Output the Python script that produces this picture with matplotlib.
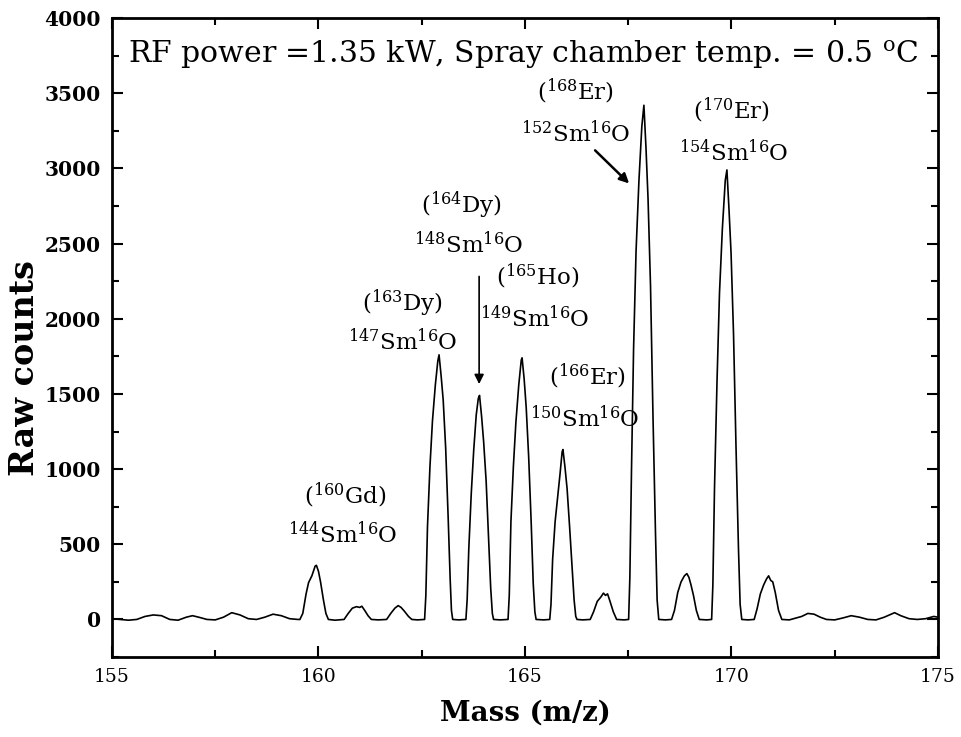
import numpy as np
import matplotlib
matplotlib.use("Agg")
import matplotlib.pyplot as plt
from matplotlib.ticker import MultipleLocator

plt.rcParams['font.family'] = ['DejaVu Serif']
plt.rcParams['mathtext.fontset'] = 'dejavuserif'

# trace (mass, raw counts)
mass = [155.0, 155.2, 155.4, 155.6, 155.8, 156.0, 156.2, 156.4, 156.6, 156.8, 156.95, 157.1, 157.3, 157.5, 157.7, 157.9, 158.1, 158.3, 158.5, 158.7, 158.9, 159.1, 159.3, 159.5,
        159.55, 159.62, 159.70, 159.76, 159.84, 159.92, 159.95, 160.0, 160.05, 160.12, 160.18, 160.24, 160.4,
        160.62, 160.72, 160.82, 160.92, 161.0, 161.05, 161.12, 161.2, 161.28, 161.45,
        161.65, 161.75, 161.85, 161.93, 162.0, 162.08, 162.18, 162.26, 162.4,
        162.57, 162.60, 162.64, 162.70, 162.76, 162.83, 162.89, 162.92, 162.97, 163.02, 163.08, 163.14, 163.19, 163.22, 163.25, 163.4,
        163.57, 163.60, 163.64, 163.70, 163.76, 163.82, 163.87, 163.90, 163.95, 164.0, 164.06, 164.12, 164.17, 164.21, 164.24, 164.4,
        164.59, 164.62, 164.66, 164.72, 164.78, 164.85, 164.91, 164.93, 164.98, 165.03, 165.09, 165.15, 165.20, 165.24, 165.27, 165.45,
        165.60, 165.63, 165.67, 165.73, 165.79, 165.85, 165.90, 165.92, 165.97, 166.02, 166.08, 166.14, 166.19, 166.23, 166.26, 166.4,
        166.58, 166.66, 166.75, 166.84, 166.90, 166.95, 167.0, 167.06, 167.14, 167.22, 167.4,
        167.51, 167.54, 167.58, 167.63, 167.69, 167.76, 167.83, 167.88, 167.93, 167.98, 168.04, 168.10, 168.16, 168.20, 168.24, 168.4,
        168.55, 168.62, 168.70, 168.78, 168.86, 168.92, 168.97, 169.02, 169.08, 169.15, 169.22, 169.4,
        169.52, 169.55, 169.59, 169.65, 169.71, 169.78, 169.85, 169.89, 169.94, 169.99, 170.05, 170.11, 170.17, 170.21, 170.25, 170.4,
        170.55, 170.62, 170.70, 170.78, 170.85, 170.90, 170.95, 171.0, 171.06, 171.14, 171.22, 171.4,
        171.7, 171.85, 172.0, 172.15, 172.3, 172.5, 172.7, 172.9, 173.1, 173.3, 173.5, 173.7, 173.95, 174.1, 174.3, 174.5, 174.7, 174.9, 175.0]
counts = [5, 0, -5, 0, 20, 30, 25, 0, -5, 15, 25, 15, 0, -3, 15, 45, 30, 5, 0, 15, 35, 25, 5, 0,
          0, 40, 170, 245, 290, 355, 360, 320, 250, 130, 40, 0, -5,
          0, 40, 75, 85, 80, 88, 60, 25, 0, -3,
          0, 40, 75, 92, 80, 55, 20, 0, -3,
          0, 160, 620, 1020, 1320, 1560, 1720, 1760, 1620, 1460, 1140, 680, 260, 60, 0, -3,
          0, 130, 470, 840, 1130, 1360, 1470, 1490, 1350, 1180, 920, 540, 210, 40, 0, -3,
          0, 160, 650, 1020, 1310, 1560, 1725, 1740, 1600, 1410, 1080, 650, 240, 50, 0, -3,
          0, 100, 400, 650, 810, 970, 1115, 1130, 1010, 870, 620, 350, 130, 20, 0, -3,
          0, 50, 120, 150, 175, 160, 170, 120, 50, 0, -3,
          0, 280, 1000, 1800, 2450, 2920, 3280, 3420, 3140, 2800, 2220, 1350, 580, 130, 0, -3,
          0, 60, 180, 250, 290, 305, 280, 230, 160, 60, 0, -3,
          0, 230, 880, 1580, 2170, 2600, 2920, 2990, 2730, 2440, 1900, 1150, 470, 100, 0, -3,
          0, 70, 170, 230, 270, 290, 260, 250, 180, 60, 0, -3,
          20, 40, 35, 15, 0, -3, 10, 25, 15, 0, -3, 15, 45, 25, 5, 0, 5, 20, 15]

# peak labels: (interference), oxide, x, y of each line
interf = [r'($^{160}$Gd)', r'($^{163}$Dy)', r'($^{164}$Dy)', r'($^{165}$Ho)', r'($^{166}$Er)', r'($^{168}$Er)', r'($^{170}$Er)']
oxide = [r'$^{144}$Sm$^{16}$O', r'$^{147}$Sm$^{16}$O', r'$^{148}$Sm$^{16}$O', r'$^{149}$Sm$^{16}$O',
         r'$^{150}$Sm$^{16}$O', r'$^{152}$Sm$^{16}$O', r'$^{154}$Sm$^{16}$O']
interf_xy = [(160.64, 827), (162.02, 2100), (163.47, 2753), (165.31, 2280), (166.50, 1620), (166.23, 3513), (169.99, 3387)]
oxide_xy = [(160.59, 567), (162.04, 1847), (163.64, 2493), (165.24, 2000), (166.45, 1333), (166.23, 3233), (170.06, 3107)]

fig = plt.figure(figsize=(9.62, 7.37), dpi=100)
ax = fig.add_axes([0.1164, 0.1085, 0.8586, 0.867])

ax.plot(mass, counts, color='black', lw=1.2)

ax.set_xlim(155, 175)
ax.set_ylim(-250, 4000)
ax.xaxis.set_major_locator(MultipleLocator(5))
ax.xaxis.set_minor_locator(MultipleLocator(2.5))
ax.yaxis.set_major_locator(MultipleLocator(500))
ax.yaxis.set_minor_locator(MultipleLocator(250))
ax.tick_params(which='both', direction='in', top=True, right=True, width=1.5)
ax.tick_params(which='major', length=8, pad=8)
ax.tick_params(which='minor', length=5)
ax.tick_params(axis='x', labelsize=13.5)
ax.tick_params(axis='y', labelsize=14.5)
for lab in ax.get_yticklabels():
    lab.set_fontweight('bold')
for s in ax.spines.values():
    s.set_linewidth(2)

ax.set_xlabel('Mass (m/z)', fontsize=20, fontweight='bold', labelpad=10)
ax.set_ylabel('Raw counts', fontsize=24, fontweight='bold', va='center')
ax.yaxis.set_label_coords(-0.106, 0.452)

ax.text(155.39, 3753, r'RF power =1.35 kW, Spray chamber temp. = 0.5 $^{\rm o}$C',
        fontsize=21.5, ha='left', va='center')

for t, (x, y) in zip(interf, interf_xy):
    ax.text(x, y, t, fontsize=16.5, ha='center', va='center')
for t, (x, y) in zip(oxide, oxide_xy):
    ax.text(x, y, t, fontsize=16.5, ha='center', va='center')

ax.annotate('', xy=(163.89, 1547), xytext=(163.89, 2300),
            arrowprops=dict(arrowstyle='-|>', color='black', lw=1.2, mutation_scale=14))
ax.annotate('', xy=(167.57, 2887), xytext=(166.65, 3133),
            arrowprops=dict(arrowstyle='-|>', color='black', lw=1.8, mutation_scale=14))

fig.savefig('out.png', dpi=100)
